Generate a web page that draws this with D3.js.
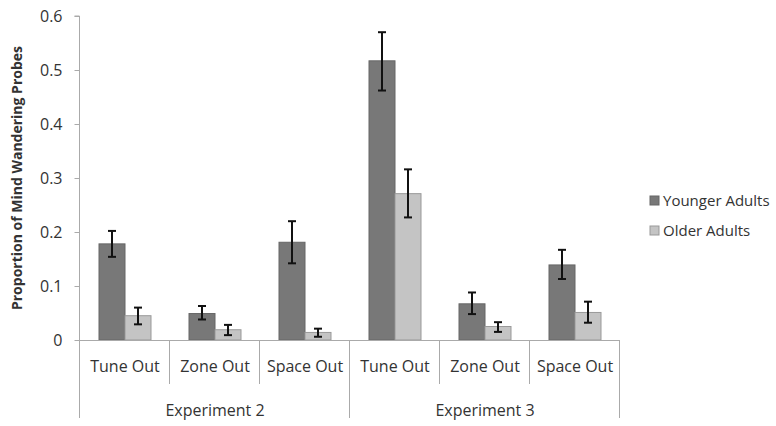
<!DOCTYPE html>
<html lang="en">
<head>
<meta charset="UTF-8">
<title>Mind Wandering Probes</title>
<style>
    body { margin: 0; background: #fff; }
    svg text { font-family: 'Open Sans', sans-serif; fill: #333; }
</style>
<script src="https://d3js.org/d3.v7.min.js"></script>
</head>
<body>
<svg id="chart" width="776" height="426"></svg>
<script>
    // data
    let experiments = ["Experiment 2", "Experiment 3"];
    let probeTypes = ["Tune Out", "Zone Out", "Space Out"];
    let seriesNames = ["Younger Adults", "Older Adults"];
    let youngerMean = [0.178, 0.049, 0.181, 0.517, 0.067, 0.139];
    let youngerLow  = [0.154, 0.038, 0.142, 0.462, 0.048, 0.113];
    let youngerHigh = [0.202, 0.063, 0.220, 0.570, 0.088, 0.167];
    let olderMean = [0.045, 0.019, 0.014, 0.271, 0.025, 0.051];
    let olderLow  = [0.029, 0.009, 0.006, 0.227, 0.015, 0.032];
    let olderHigh = [0.060, 0.028, 0.021, 0.316, 0.033, 0.071];
    let yTicks = [0, 0.1, 0.2, 0.3, 0.4, 0.5, 0.6];

    let colors = {"Younger Adults": "#787878", "Older Adults": "#c4c4c4"};
    let strokes = {"Younger Adults": "#666", "Older Adults": "#999"};

    let categories = [];
    experiments.forEach((e, i) => probeTypes.forEach(p => categories.push({exp: e, probe: p, key: e + "|" + p})));

    let rows = [];
    categories.forEach((c, i) => {
        rows.push({key: c.key, series: "Younger Adults", v: youngerMean[i], lo: youngerLow[i], hi: youngerHigh[i]});
        rows.push({key: c.key, series: "Older Adults", v: olderMean[i], lo: olderLow[i], hi: olderHigh[i]});
    });

    let svg = d3.select("#chart");
    let plotLeft = 80, plotRight = 620, plotTop = 16, plotBottom = 340;

    let x = d3.scaleBand().domain(categories.map(c => c.key)).range([plotLeft, plotRight]);
    let xs = d3.scaleBand().domain(seriesNames).range([x.bandwidth() / 2 - 26, x.bandwidth() / 2 + 26]);
    let y = d3.scaleLinear().domain([0, 0.6]).range([plotBottom, plotTop]);

    // y axis
    let yAxis = svg.append("g")
        .attr("transform", "translate(" + (plotLeft - 0.5) + ",0)")
        .call(d3.axisLeft(y).tickValues(yTicks).tickSize(5).tickPadding(12)
            .tickFormat(d => d === 0 ? "0" : d3.format(".1f")(d)));
    yAxis.select(".domain").attr("stroke", "#aaa").attr("d", "M-5," + y(0.6) + "H0V" + plotBottom);
    yAxis.selectAll(".tick line").attr("stroke", "#aaa");
    yAxis.selectAll(".tick text").style("font-size", "16px").attr("fill", "#333");

    svg.append("text")
        .attr("transform", "translate(22," + ((plotTop + plotBottom) / 2) + ") rotate(-90)")
        .attr("text-anchor", "middle")
        .style("font-size", "14px")
        .style("font-weight", "bold")
        .text("Proportion of Mind Wandering Probes");

    // bars
    svg.selectAll(".bar")
        .data(rows)
        .enter().append("rect")
        .attr("class", "bar")
        .attr("x", d => x(d.key) + xs(d.series))
        .attr("width", xs.bandwidth())
        .attr("y", d => y(d.v))
        .attr("height", d => y(0) - y(d.v))
        .attr("fill", d => colors[d.series])
        .attr("stroke", d => strokes[d.series])
        .attr("stroke-width", 1);

    // error bars
    let err = svg.selectAll(".err")
        .data(rows)
        .enter().append("g")
        .attr("class", "err")
        .attr("stroke", "#111")
        .attr("stroke-width", 2);
    err.append("line")
        .attr("x1", d => x(d.key) + xs(d.series) + xs.bandwidth() / 2)
        .attr("x2", d => x(d.key) + xs(d.series) + xs.bandwidth() / 2)
        .attr("y1", d => y(d.lo)).attr("y2", d => y(d.hi));
    err.append("line")
        .attr("x1", d => x(d.key) + xs(d.series) + xs.bandwidth() / 2 - 4)
        .attr("x2", d => x(d.key) + xs(d.series) + xs.bandwidth() / 2 + 4)
        .attr("y1", d => y(d.hi)).attr("y2", d => y(d.hi));
    err.append("line")
        .attr("x1", d => x(d.key) + xs(d.series) + xs.bandwidth() / 2 - 4)
        .attr("x2", d => x(d.key) + xs(d.series) + xs.bandwidth() / 2 + 4)
        .attr("y1", d => y(d.lo)).attr("y2", d => y(d.lo));

    // x axis baseline and category separators
    let axisColor = "#aaa";
    svg.append("line")
        .attr("x1", plotLeft - 5).attr("x2", plotRight)
        .attr("y1", plotBottom + 0.5).attr("y2", plotBottom + 0.5)
        .attr("stroke", axisColor);

    categories.forEach((c, i) => {
        let xl = x(c.key);
        let isGroupEdge = i % probeTypes.length === 0;
        svg.append("line")
            .attr("x1", Math.round(xl) - 0.5).attr("x2", Math.round(xl) - 0.5)
            .attr("y1", plotBottom).attr("y2", isGroupEdge ? 418 : 384)
            .attr("stroke", axisColor);
        svg.append("text")
            .attr("x", xl + x.bandwidth() / 2)
            .attr("y", 372)
            .attr("text-anchor", "middle")
            .style("font-size", "16px")
            .text(c.probe);
    });
    svg.append("line")
        .attr("x1", plotRight - 0.5).attr("x2", plotRight - 0.5)
        .attr("y1", plotBottom).attr("y2", 418)
        .attr("stroke", axisColor);

    experiments.forEach(e => {
        let first = x(e + "|" + probeTypes[0]);
        let last = x(e + "|" + probeTypes[probeTypes.length - 1]) + x.bandwidth();
        svg.append("text")
            .attr("x", (first + last) / 2)
            .attr("y", 416)
            .attr("text-anchor", "middle")
            .style("font-size", "16px")
            .text(e);
    });

    // legend
    let legend = svg.selectAll(".legend-item")
        .data(seriesNames)
        .enter().append("g")
        .attr("class", "legend-item")
        .attr("transform", (d, i) => "translate(650," + (196 + i * 30) + ")");
    legend.append("rect")
        .attr("width", 9).attr("height", 9)
        .attr("fill", d => colors[d])
        .attr("stroke", d => strokes[d]);
    legend.append("text")
        .attr("x", 13).attr("y", 10)
        .style("font-size", "15px")
        .text(d => d);
</script>
</body>
</html>
